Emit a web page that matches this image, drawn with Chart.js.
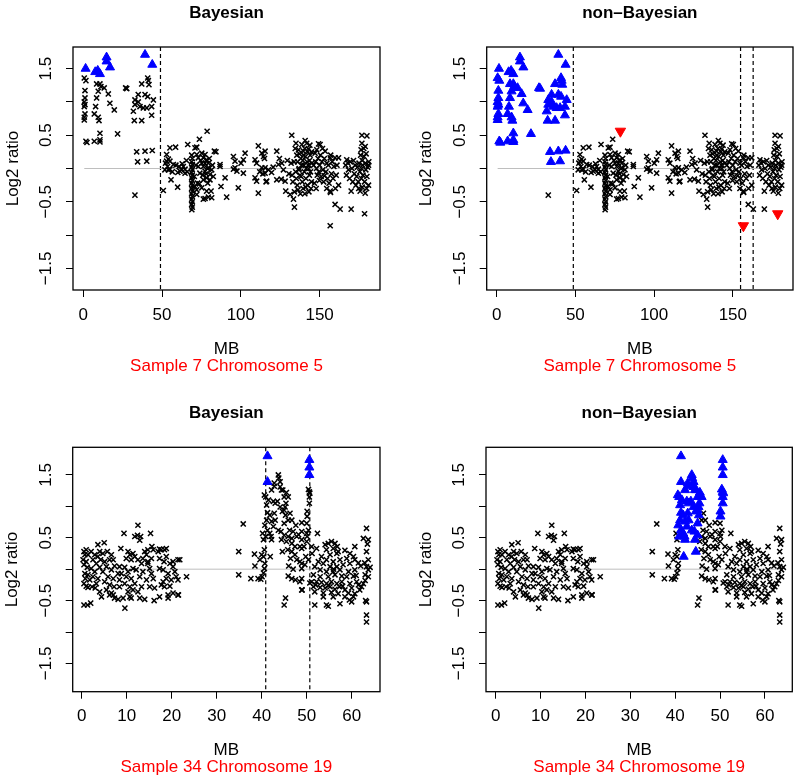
<!DOCTYPE html>
<html>
<head>
<meta charset="utf-8">
<script src="https://cdn.jsdelivr.net/npm/chart.js@4.4.1/dist/chart.umd.min.js"></script>
<style>
  body { margin: 0; background: #fff; }
  #wrap { position: relative; width: 800px; height: 783px; overflow: hidden; }
  canvas { position: absolute; }
</style>
</head>
<body>
<div id="wrap">
  <canvas id="c1" width="400" height="390" style="left:0;top:0"></canvas>
  <canvas id="c2" width="400" height="390" style="left:400px;top:0"></canvas>
  <canvas id="c3" width="400" height="393" style="left:0;top:390px"></canvas>
  <canvas id="c4" width="400" height="393" style="left:400px;top:390px"></canvas>
</div>
<script>
// ---- data: [MB, log2 ratio] ----

// Sample 7, chromosome 5
var c5Top = [[1.5,1.50],[7.6,1.45],[9.2,1.47],[10.6,1.42],[14.8,1.67],[14.8,1.61],[17.0,1.52],[39.2,1.71],[43.8,1.56]];
var c5Arm = [
  [0.65,1.36],[1.7,1.32],[1.1,1.17],[1.1,1.06],[0.65,1.0],[1.1,0.96],[0.65,0.93],[1.1,0.82],[0.65,0.77],[0.65,0.73],[1.7,0.41],[2.35,0.39],
  [8.5,1.27],[10.6,1.27],[11.2,1.23],[9.5,1.16],[8.5,1.06],[7.85,0.93],[7.0,0.82],[9.5,0.77],[10.0,0.72],[10.6,0.53],[7.0,0.41],[10.6,0.43],[10.6,0.40],
  [13.3,1.21],[15.9,1.12],[16.9,0.98],[19.7,0.88],[21.8,0.52],[26.9,1.21],[27.6,1.20],
  [40.9,1.36],[41.3,1.32],[37.1,1.27],[41.7,1.26],[34.9,1.11],[39.2,1.11],[40.9,1.08],[32.8,1.03],[34.9,1.0],[44.5,1.03],[32.8,0.96],[36.0,0.93],
  [38.1,0.91],[40.3,0.91],[43.4,0.93],[31.8,0.86],[43.4,0.80],[32.4,0.72],[37.1,0.72],
  [33.9,0.25],[39.2,0.26],[43.8,0.27],[34.5,0.10],[40.3,0.11]
];
var c5Loss = [[78.6,0.56],[156.7,-0.86],[178.5,-0.68]];
var c5Rest = [
  [32.8,-0.40],
  [50.8,-0.33],[52.9,0.21],[55.0,0.31],[58.6,0.32],[54.0,0.14],[55.0,0.11],[53.5,0.03],[55.0,-0.01],[54.0,-0.02],[52.2,0.08],[55.7,-0.17],
  [59.9,-0.28],[57.2,0.06],[51.8,-0.02],[52.9,0.11],[56.5,-0.05],[60.8,0.03],[61.4,-0.04],[63.5,0.03],[62.4,-0.02],[64.6,-0.01],[64.6,-0.07],
  [66.3,0.36],[65.5,0.12],[62.8,0.07],[58.8,0.05],[60.0,-0.06],[66.0,-0.05],
  [68.8,0.2],[69.2,0.15],[68.8,0.1],[69.2,0.06],[68.8,0.02],[69.2,-0.02],[68.8,-0.06],[69.2,-0.1],[68.8,-0.14],[69.2,-0.18],[68.8,-0.22],
  [69.2,-0.26],[68.8,-0.3],[69.2,-0.34],[68.8,-0.38],[69.2,-0.42],[68.8,-0.46],[69.2,-0.5],[68.8,-0.54],[69.2,-0.58],[68.9,-0.62],
  [72.0,0.21],[75.2,0.23],[77.3,0.21],[76.2,0.16],[78.3,0.13],[79.4,0.08],[77.3,0.08],[75.2,0.08],[73.0,0.03],[76.2,0.03],[79.4,0.01],
  [81.5,-0.02],[77.3,-0.04],[74.0,-0.07],[80.4,-0.09],[82.5,-0.12],[78.3,-0.14],[76.2,-0.17],[80.4,-0.17],[72.5,-0.22],[70.9,-0.27],
  [75.2,-0.29],[72.0,-0.32],[78.3,-0.34],[76.2,-0.46],[79.4,-0.43],[72.0,-0.39],[83.2,0.26],[73.0,0.16],[70.9,0.31],[73.7,-0.23],[77.3,-0.45],
  [81.1,-0.34],[81.5,-0.44],[73.7,0.44],[72.0,0.32],[84.2,0.25],[74.5,0.12],[78.8,0.0],[80.0,0.15],[71.5,0.05],[78.0,-0.08],[75.8,-0.1],
  [82.0,0.05],[70.5,-0.12],[79.0,-0.22],
  [86.8,0.06],[86.8,0.03],[90.0,-0.14],[91.0,-0.43],[87.4,-0.27],[95.3,0.18],[96.3,0.01],[95.3,-0.01],[98.4,-0.29],[100.1,0.08],[101.6,0.13],
  [102.7,0.23],[101.6,-0.07],[96.3,0.11],[97.5,-0.04],[109.0,0.13],[111.1,0.34],[110.0,0.08],[109.0,-0.14],[110.0,-0.19],[111.1,-0.37],
  [113.3,0.23],[114.4,0.18],[115.4,0.26],[115.4,0.01],[115.4,-0.07],[116.4,-0.19],[113.3,0.01],[117.5,-0.02],[114.0,-0.08],[112.0,-0.05],
  [116.0,-0.2],[115.0,0.15],
  [122.8,0.26],[126.0,0.08],[128.1,-0.19],[128.5,-0.34],[132.3,0.5],[131.9,0.08],[131.3,-0.39],[133.4,-0.46],[134.0,-0.58],[123.9,0.06],
  [122.8,-0.17],[125.6,-0.16],[127.0,-0.02],[120.5,0.02],[119.5,-0.06],[124.5,0.15],[129.5,0.12],[130.5,-0.08],
  [134.5,0.3],[135.5,0.2],[136.0,0.1],[136.6,0.28],[137.0,0.0],[137.5,-0.1],[138.0,0.15],[138.7,0.36],[139.0,-0.2],[139.7,0.26],[140.0,0.05],
  [140.3,-0.05],[140.8,0.42],[141.0,0.18],[141.3,-0.15],[141.8,0.38],[142.0,0.1],[142.3,-0.25],[142.9,0.29],[143.0,0.0],[143.5,-0.1],
  [144.0,0.2],[144.5,-0.3],[145.0,0.08],[134.8,-0.05],[135.2,-0.15],[135.8,-0.25],[136.3,-0.32],[137.2,0.22],[137.8,-0.38],[138.5,0.05],
  [139.3,0.12],[139.5,-0.3],[140.5,0.3],[140.6,-0.38],[141.5,0.0],[142.5,0.25],[143.2,-0.35],[143.8,0.35],[144.2,-0.05],[144.8,-0.2],
  [134.0,-0.35],[135.0,0.38],[136.8,-0.02],[138.2,-0.12],[139.8,0.2],[141.2,-0.28],[142.7,0.05],[143.6,0.12],[133.0,-0.2],[132.5,-0.1],
  [133.8,0.1],[144.9,0.25],
  [150.3,0.36],[149.3,0.37],[147.1,0.23],[153.5,0.26],[154.6,0.08],[156.7,0.16],[159.8,0.16],[156.7,-0.34],[156.9,-0.36],[159.8,-0.54],
  [163.0,-0.61],[146.7,-0.22],[153.1,-0.11],[147.5,0.1],[148.0,0.0],[148.5,-0.1],[149.0,0.15],[149.5,-0.05],[150.0,0.05],[150.5,0.2],
  [151.0,-0.12],[151.5,0.1],[152.0,-0.02],[152.5,-0.2],[153.0,0.15],[154.0,-0.05],[155.0,-0.15],[155.5,0.05],[156.0,-0.22],[157.5,-0.08],
  [158.0,0.1],[158.5,-0.15],[159.0,0.03],[160.5,-0.1],[161.0,0.05],[162.0,-0.25],[147.8,-0.3],[149.8,-0.18],[151.8,0.3],[146.2,0.05],
  [148.2,0.28],[154.5,-0.3],[157.0,0.2],[160.0,-0.3],[162.0,0.16],
  [176.8,0.5],[180.0,0.49],[176.8,0.38],[178.9,0.33],[170.0,-0.61],[170.0,-0.34],[175.7,-0.34],[178.9,-0.37],[167.2,0.13],[168.3,-0.02],
  [166.5,0.05],[167.0,-0.1],[168.0,0.08],[169.0,-0.15],[169.5,0.1],[170.5,0.0],[171.0,-0.2],[171.5,0.12],[172.0,-0.08],[172.5,0.05],
  [173.0,-0.25],[173.5,-0.12],[174.0,0.02],[174.5,-0.2],[175.0,0.08],[175.5,-0.05],[176.0,0.2],[176.3,0.28],[176.5,-0.15],[177.0,0.12],
  [177.3,0.05],[177.5,-0.1],[178.0,0.3],[178.2,0.18],[178.5,-0.2],[179.0,0.08],[179.3,-0.02],[179.5,0.22],[180.0,-0.12],[180.5,0.02],
  [181.0,-0.25],[181.2,0.1],[177.0,-0.28],[174.8,-0.3],[181.0,0.05],[179.8,-0.3],[176.6,0.0]
];

// Sample 34, chromosome 19
var c19Top = [[41.3,1.80],[41.3,1.39],[50.6,1.74],[50.6,1.62],[50.6,1.50]];
var c19Peak = [
  [40.9,0.52],[41.3,0.62],[40.7,0.70],[41.1,0.78],[41.3,0.90],[41.1,1.02],[40.9,1.15],[41.5,1.10],[42.2,1.26],[42.8,1.37],[43.7,1.50],
  [43.8,1.45],[44.1,1.39],[44.1,1.31],[44.4,1.26],[45.5,1.22],[45.0,1.15],[45.9,1.15],[43.0,1.05],[42.6,1.08],[43.5,1.08],[44.1,0.99],
  [45.2,0.99],[44.6,0.92],[45.3,0.86],[42.2,0.76],[42.6,0.68],[43.7,0.62],[41.8,0.57],[45.0,0.73],[44.4,0.47],[45.0,0.54],[42.2,0.47],
  [43.0,0.78],[41.8,0.86],[41.9,0.20],[44.6,0.28],[40.6,1.18],[45.4,1.05],[45.0,0.94],[44.3,0.60],[42.1,0.52],[42.8,1.32],[44.7,1.26],
  [42.8,0.89],
  [50.4,1.27],[50.6,1.23],[50.7,1.21],[50.6,1.15],[50.6,1.05],[50.1,0.92],[50.1,0.84]
];
var c19Rest = [
  [12.5,0.70],[9.4,0.57],[15.3,0.57],[12.4,0.54],[13.1,0.52],[12.9,0.46],[11.8,0.52],[3.6,0.39],[5.0,0.42],[8.7,0.33],[15.6,0.36],[17.3,0.32],
  [18.8,0.33],[14.7,0.31],[21.8,0.15],[23.3,-0.12],[21.5,-0.41],
  [0.5,0.28],[1.0,0.31],[0.7,0.23],[1.4,0.23],[0.3,0.15],[1.0,0.12],[0.5,0.07],[1.25,0.03],[0.7,-0.07],[1.4,-0.09],[0.8,-0.15],[0.5,-0.23],
  [1.0,-0.27],[1.4,-0.29],[0.5,-0.57],[1.3,-0.57],[2.0,-0.54],
  [2.1,0.28],[2.9,0.23],[2.5,0.15],[3.6,0.2],[4.0,0.28],[3.25,0.09],[2.1,0.01],[2.9,-0.04],[4.0,0.03],[2.5,-0.12],[3.6,-0.15],[3.25,-0.23],
  [2.3,-0.28],[4.0,-0.36],[4.4,-0.44],[3.0,-0.3],[1.8,-0.17],[4.2,0.15],
  [4.7,0.25],[5.7,0.28],[6.6,0.23],[6.2,0.15],[5.1,0.12],[7.0,0.15],[5.5,0.04],[6.6,-0.01],[7.3,0.05],[4.7,-0.04],[5.85,-0.12],[7.0,-0.15],
  [5.1,-0.2],[6.2,-0.25],[7.2,-0.28],[5.5,-0.33],[6.6,-0.38],[6.2,-0.41],[7.0,-0.41],[7.3,-0.46],[8.1,-0.48],
  [10.3,0.28],[10.7,0.23],[11.4,0.25],[9.9,0.17],[11.0,0.15],[11.8,0.2],[8.4,0.04],[9.55,0.03],[10.3,-0.04],[11.4,0.01],[8.8,-0.07],
  [9.9,-0.12],[11.0,-0.15],[8.4,-0.17],[9.55,-0.23],[10.7,-0.28],[11.8,-0.23],[8.4,-0.28],[10.3,-0.36],[11.4,-0.33],[10.7,-0.44],[11.0,-0.46],
  [9.6,-0.62],[9.2,-0.46],[8.1,-0.07],
  [12.5,0.15],[14.0,0.28],[14.4,0.23],[14.7,0.12],[13.3,0.09],[12.1,-0.01],[13.6,-0.04],[15.1,0.01],[15.5,-0.07],[12.9,-0.12],[14.4,-0.17],
  [15.9,-0.15],[13.3,-0.28],[15.1,-0.28],[16.2,-0.3],[12.5,-0.36],[12.9,-0.46],[14.0,-0.48],[16.1,-0.5],[14.7,0.09],[15.5,0.17],[13.6,0.17],
  [15.9,0.31],
  [17.0,0.28],[17.7,0.31],[18.4,0.31],[18.8,0.2],[17.3,0.17],[18.3,0.12],[19.6,0.09],[20.3,0.12],[21.4,0.15],[17.3,0.01],[18.1,-0.01],
  [19.2,-0.07],[21.0,-0.12],[21.4,-0.17],[19.9,-0.17],[18.8,-0.15],[17.7,-0.25],[18.4,-0.28],[19.6,-0.27],[20.3,-0.38],[21.4,-0.41],
  [18.1,-0.2],[19.2,-0.41],[19.2,-0.46],[17.3,-0.44],[20.3,0.04],[20.7,-0.04],
  [35.9,0.72],[34.9,0.28],[34.9,-0.09],[37.6,-0.15],[38.5,0.05],[38.4,0.24],[39.2,-0.15],[39.8,-0.16],[40.1,-0.12],[40.4,-0.06],[40.6,0.01],
  [40.7,0.09],[40.4,0.2],[40.6,0.31],[40.0,0.23],[39.6,0.15],[40.4,0.47],[40.2,0.57],
  [46.3,0.89],[45.9,0.78],[46.7,0.78],[45.9,0.52],[46.7,0.49],[47.8,0.52],[45.5,0.44],[46.7,0.41],[47.4,0.36],[48.5,0.36],[45.8,0.31],
  [46.7,0.28],[47.4,0.23],[47.8,0.15],[48.5,0.12],[48.9,0.09],[45.9,-0.11],[46.7,-0.15],[47.5,-0.17],[48.5,-0.2],[49.0,-0.33],[45.3,-0.46],
  [45.0,-0.57],[46.2,0.62],[47.0,0.6],[47.6,0.7],[48.2,0.55],[46.0,0.05],[47.0,0.0],[46.4,0.17],
  [48.9,0.74],[48.9,0.60],[48.9,0.47],[49.4,0.36],[48.9,0.33],[49.8,0.2],[50.4,0.15],[49.6,0.07],[48.9,0.01],[48.9,-0.15],[48.9,-0.33],
  [50.7,-0.22],[50.0,0.73],[50.4,0.62],[50.0,0.57],[50.1,0.52],[50.0,0.44],[52.4,0.57],[52.2,0.33],[51.1,0.36],
  [51.8,-0.57],[54.4,-0.57],[54.8,-0.59],[57.4,-0.55],[59.5,-0.49],[60.0,-0.52],[60.4,-0.44],[58.5,-0.44],[55.9,-0.44],[53.7,-0.44],
  [60.7,0.36],[63.3,0.65],[62.6,0.49],[63.7,0.47],[63.3,0.28],[63.7,0.15],[63.3,0.04],[63.7,-0.01],[63.0,-0.09],[63.0,-0.18],[63.3,-0.52],
  [63.1,-0.50],[63.3,-0.73],[63.3,-0.84],[64.1,0.03],[63.7,-0.12],[62.6,-0.23],[62.2,-0.28],[61.5,-0.25],
  [54.1,0.39],[54.8,0.41],[55.5,0.44],[56.3,0.41],[56.8,0.36],[55.9,0.33],[54.4,0.31],[53.3,0.2],[55.2,0.23],[56.7,0.25],[59.6,0.25],
  [60.4,0.2],[58.9,0.17],[57.4,0.15],[55.9,0.12],[54.4,0.15],[53.7,0.09],[52.6,0.12],[51.8,0.04],[55.2,0.04],[56.7,0.04],[58.1,0.07],
  [59.6,0.09],[60.7,0.15],[53.0,-0.01],[54.4,-0.04],[55.9,-0.04],[57.4,-0.01],[59.3,-0.04],[60.7,-0.01],[51.5,-0.09],[53.0,-0.12],
  [54.8,-0.12],[56.3,-0.09],[57.8,-0.11],[58.9,-0.12],[60.4,-0.11],[51.1,-0.2],[52.2,-0.2],[53.3,-0.21],[54.4,-0.23],[55.5,-0.2],
  [56.7,-0.23],[57.8,-0.2],[59.6,-0.23],[61.1,-0.2],[51.5,-0.28],[53.0,-0.29],[54.1,-0.3],[55.2,-0.28],[56.3,-0.32],[57.3,-0.28],
  [58.5,-0.33],[60.0,-0.3],[61.8,-0.33],[51.8,-0.36],[53.7,-0.38],[55.5,-0.37],[57.0,-0.39],[59.3,-0.38],[60.7,-0.39],[52.0,-0.25],
  [54.9,-0.26],[58.0,-0.27],[56.0,0.0],[58.5,0.3],[61.5,0.1],[62.0,0.05],[57.0,0.28],[51.2,0.25],[61.0,-0.1],[62.9,0.1],[63.5,0.4]
];

// breakpoints (dashed lines), MB
var bayes5Breaks = [49.0];
var nonBayes5Breaks = [48.7, 154.9, 162.9];
var bayes19Breaks = [40.9, 50.7];
var nonBayes19Breaks = [];

// axis ticks
var xTicks5 = [0, 50, 100, 150];
var xTicks19 = [0, 10, 20, 30, 40, 50, 60];
var yTicks = [-1.5, -1, -0.5, 0, 0.5, 1, 1.5];
var yLabels = [-1.5, -0.5, 0.5, 1.5];

var FONT = '"Liberation Sans", Arial, Helvetica, sans-serif';

function fmt(v) {
  return (v < 0 ? '\u2212' : '') + String(Math.abs(v));
}

function span(list) {
  var lo = Infinity, hi = -Infinity;
  list.forEach(function (arr) {
    arr.forEach(function (p) { lo = Math.min(lo, p[0]); hi = Math.max(hi, p[0]); });
  });
  return [lo, hi];
}

// R-like frame, dashed breakpoints and all the text
var rPlot = {
  id: 'rPlot',
  beforeDatasetsDraw: function (chart, args, o) {
    var ctx = chart.ctx, a = chart.chartArea, x = chart.scales.x;
    ctx.save();
    ctx.strokeStyle = '#000';
    ctx.lineWidth = 1.2;
    ctx.setLineDash([4, 3]);
    o.breaks.forEach(function (b) {
      var px = x.getPixelForValue(b);
      ctx.beginPath();
      ctx.moveTo(px, a.top);
      ctx.lineTo(px, a.bottom);
      ctx.stroke();
    });
    ctx.restore();
  },
  afterDraw: function (chart, args, o) {
    var ctx = chart.ctx, a = chart.chartArea, sx = chart.scales.x, sy = chart.scales.y;
    ctx.save();
    ctx.strokeStyle = '#000';
    ctx.lineWidth = 1.3;
    ctx.strokeRect(a.left, a.top, a.right - a.left, a.bottom - a.top);

    ctx.fillStyle = '#000';
    ctx.textAlign = 'center';
    ctx.textBaseline = 'middle';
    ctx.font = '17px ' + FONT;
    o.xTicks.forEach(function (v) {
      ctx.fillText(String(v), sx.getPixelForValue(v), a.bottom + 25);
    });
    yLabels.forEach(function (v) {
      ctx.save();
      ctx.translate(a.left - 26.5, sy.getPixelForValue(v));
      ctx.rotate(-Math.PI / 2);
      ctx.fillText(fmt(v), 0, 0);
      ctx.restore();
    });
    var cx = (a.left + a.right) / 2;
    ctx.save();
    ctx.translate(a.left - 60, (a.top + a.bottom) / 2);
    ctx.rotate(-Math.PI / 2);
    ctx.fillText('Log2 ratio', 0, 0);
    ctx.restore();
    ctx.fillText('MB', cx, a.bottom + 59);
    ctx.fillStyle = '#ff0000';
    ctx.fillText(o.sub, cx, a.bottom + 76);
    ctx.fillStyle = '#000';
    ctx.font = 'bold 17px ' + FONT;
    ctx.fillText(o.title, cx, a.top - 34);
    ctx.restore();
  }
};

function panel(id, p) {
  var cv = document.getElementById(id);
  var H = cv.height, W = cv.width;
  var zr = span(p.all);
  var datasets = [
    { type: 'line', data: [[zr[0], 0], [zr[1], 0]], borderColor: '#bebebe', borderWidth: 1,
      pointRadius: 0, order: 10 },
    { data: p.black, pointStyle: 'crossRot', pointRadius: 3.6, borderColor: '#000',
      backgroundColor: '#000', borderWidth: 1.5, order: 5 },
    { data: p.blue, pointStyle: 'triangle', pointRadius: 5.2, borderColor: '#0000ff',
      backgroundColor: '#0000ff', borderWidth: 1, order: 2 },
    { data: p.red || [], pointStyle: 'triangle', pointRotation: 180, pointRadius: 6,
      borderColor: '#ff0000', backgroundColor: '#ff0000', borderWidth: 1, order: 1 }
  ];
  return new Chart(cv, {
    type: 'scatter',
    data: { datasets: datasets },
    options: {
      responsive: false,
      animation: false,
      layout: { padding: { left: 0, top: p.box.top, right: W - p.box.right, bottom: 0 } },
      plugins: {
        legend: { display: false },
        tooltip: { enabled: false },
        rPlot: { breaks: p.breaks, xTicks: p.xTicks, title: p.title, sub: p.sub }
      },
      scales: {
        x: {
          type: 'linear', min: p.xr[0], max: p.xr[1],
          afterBuildTicks: function (s) { s.ticks = p.xTicks.map(function (v) { return { value: v }; }); },
          afterFit: function (s) { s.height = H - p.box.bottom; },
          ticks: { display: false },
          grid: { drawOnChartArea: false, drawTicks: true, tickLength: 7, color: '#000', lineWidth: 1 },
          border: { display: false }
        },
        y: {
          type: 'linear', min: p.yr[0], max: p.yr[1],
          afterBuildTicks: function (s) { s.ticks = yTicks.map(function (v) { return { value: v }; }); },
          afterFit: function (s) { s.width = p.box.left; },
          ticks: { display: false },
          grid: { drawOnChartArea: false, drawTicks: true, tickLength: 7, color: '#000', lineWidth: 1 },
          border: { display: false }
        }
      }
    },
    plugins: [rPlot]
  });
}

var all5 = [c5Top, c5Arm, c5Loss, c5Rest];
var all19 = [c19Top, c19Peak, c19Rest];

panel('c1', {
  title: 'Bayesian', sub: 'Sample 7 Chromosome 5',
  box: { left: 73, right: 380, top: 47, bottom: 290 },
  xr: [-6.5, 188.3], yr: [-1.825, 1.825], xTicks: xTicks5,
  black: c5Arm.concat(c5Loss, c5Rest), blue: c5Top, breaks: bayes5Breaks, all: all5
});
panel('c2', {
  title: 'non\u2013Bayesian', sub: 'Sample 7 Chromosome 5',
  box: { left: 86.7, right: 393.5, top: 47, bottom: 290 },
  xr: [-6.3, 188.2], yr: [-1.825, 1.825], xTicks: xTicks5,
  black: c5Rest, blue: c5Top.concat(c5Arm), red: c5Loss, breaks: nonBayes5Breaks, all: all5
});
panel('c3', {
  title: 'Bayesian', sub: 'Sample 34 Chromosome 19',
  box: { left: 72.7, right: 380, top: 57.3, bottom: 301.7 },
  xr: [-2.0, 66.3], yr: [-1.95, 1.94], xTicks: xTicks19,
  black: c19Peak.concat(c19Rest), blue: c19Top, breaks: bayes19Breaks, all: all19
});
panel('c4', {
  title: 'non\u2013Bayesian', sub: 'Sample 34 Chromosome 19',
  box: { left: 86, right: 392.3, top: 57.3, bottom: 301.7 },
  xr: [-2.15, 66.1], yr: [-1.95, 1.94], xTicks: xTicks19,
  black: c19Rest, blue: c19Top.concat(c19Peak), breaks: nonBayes19Breaks, all: all19
});
</script>
</body>
</html>
